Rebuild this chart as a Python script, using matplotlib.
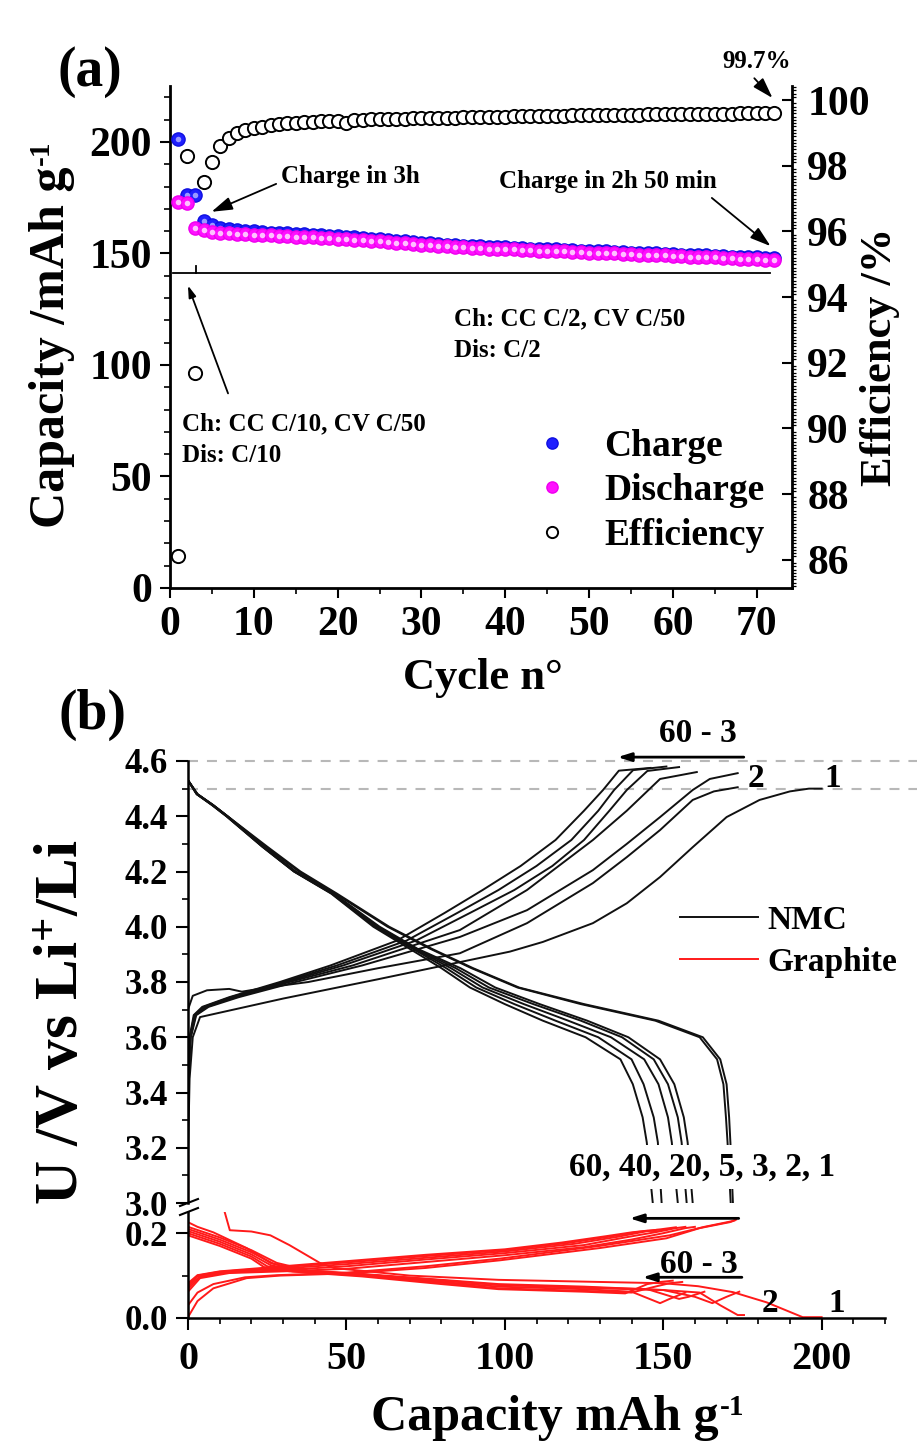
import matplotlib
matplotlib.use('Agg')
import matplotlib.pyplot as plt
from matplotlib.ticker import MultipleLocator
from matplotlib.lines import Line2D

plt.rcParams['font.family'] = ['Liberation Serif', 'DejaVu Serif']
plt.rcParams['font.weight'] = 'bold'
plt.rcParams['mathtext.default'] = 'regular'
plt.rcParams['axes.linewidth'] = 1.5

# ---------------- (a) cycling data ----------------
cycles = list(range(1, 73))
charge_cap = [201.5, 176.0, 176.3, 164.5, 162.6, 161.6, 161.0, 160.5, 160.2, 159.9,
              159.7, 159.4, 159.2, 159.0, 158.8, 158.6, 158.3, 158.1, 157.9, 157.7,
              157.5, 157.2, 156.9, 156.6, 156.3, 156.0, 155.7, 155.4, 155.2, 154.9,
              154.6, 154.3, 154.0, 153.7, 153.5, 153.3, 153.2, 153.0, 152.9, 152.7,
              152.5, 152.4, 152.2, 152.1, 151.9, 151.8, 151.6, 151.5, 151.3, 151.2,
              151.0, 150.9, 150.7, 150.6, 150.4, 150.3, 150.1, 150.0, 149.8, 149.7,
              149.5, 149.4, 149.2, 149.1, 148.9, 148.8, 148.6, 148.5, 148.3, 148.2,
              148.0, 147.9]
discharge_cap = [173.0, 172.5, 161.3, 160.5, 159.8, 159.4, 159.1, 158.9, 158.7, 158.5,
                 158.3, 158.1, 157.9, 157.7, 157.6, 157.4, 157.2, 157.0, 156.9, 156.7,
                 156.4, 156.2, 155.9, 155.6, 155.4, 155.1, 154.8, 154.5, 154.3, 154.0,
                 153.7, 153.5, 153.2, 152.9, 152.7, 152.5, 152.4, 152.2, 152.1, 151.9,
                 151.8, 151.6, 151.5, 151.3, 151.2, 151.0, 150.9, 150.7, 150.6, 150.4,
                 150.3, 150.1, 150.0, 149.8, 149.7, 149.5, 149.4, 149.2, 149.1, 148.9,
                 148.8, 148.6, 148.5, 148.3, 148.2, 148.0, 147.9, 147.7, 147.6, 147.4,
                 147.3, 147.1]
efficiency = [86.1, 98.3, 91.7, 97.5, 98.1, 98.6, 98.85, 99.0, 99.08, 99.14,
              99.19, 99.23, 99.26, 99.29, 99.31, 99.33, 99.34, 99.35, 99.36, 99.37,
              99.29, 99.39, 99.40, 99.41, 99.42, 99.43, 99.43, 99.44, 99.45, 99.45,
              99.46, 99.46, 99.47, 99.47, 99.48, 99.48, 99.49, 99.49, 99.50, 99.50,
              99.51, 99.51, 99.52, 99.52, 99.52, 99.53, 99.53, 99.54, 99.54, 99.54,
              99.55, 99.55, 99.55, 99.56, 99.56, 99.56, 99.57, 99.57, 99.57, 99.58,
              99.58, 99.58, 99.58, 99.59, 99.59, 99.59, 99.59, 99.60, 99.60, 99.60,
              99.60, 99.61]

# ---------------- (b) NMC charge curves ----------------
nmc_ch1_q = [0, 0.5, 1.5, 3.8, 30, 60, 85, 101.6, 112, 127.8, 138.5, 149, 159.3, 170, 180.4, 190, 196, 200]
nmc_ch1_v = [3.17, 3.45, 3.60, 3.673, 3.74, 3.81, 3.87, 3.91, 3.945, 4.013, 4.085, 4.18, 4.288, 4.397, 4.459, 4.49, 4.50, 4.50]
nmc_ch2_q = [0, 1.5, 6, 13, 17, 25, 38, 60, 85.8, 107, 127.8, 138.5, 149, 159.3, 166, 173.5]
nmc_ch2_v = [3.70, 3.75, 3.77, 3.775, 3.765, 3.78, 3.80, 3.85, 3.904, 4.013, 4.158, 4.252, 4.35, 4.459, 4.49, 4.505]
nmc_ch3_q = [0, 0.9, 2.6, 6.5, 16, 34, 55, 85.8, 107, 127.8, 138.5, 149, 159.3, 164.7, 173.5]
nmc_ch3_v = [3.45, 3.60, 3.68, 3.71, 3.745, 3.80, 3.86, 3.963, 4.06, 4.205, 4.30, 4.397, 4.495, 4.535, 4.556]
nmc_ch5_q = [0, 0.8, 2.4, 6, 15, 32, 52, 85.8, 107, 127.8, 138.5, 149, 160.6]
nmc_ch5_v = [3.42, 3.60, 3.68, 3.71, 3.745, 3.80, 3.86, 3.988, 4.133, 4.314, 4.42, 4.535, 4.56]
nmc_ch20_q = [0, 0.7, 2.2, 5.5, 14, 31, 49, 72, 89, 103, 115, 125, 133, 138.5, 145, 155]
nmc_ch20_v = [3.40, 3.60, 3.68, 3.71, 3.745, 3.80, 3.86, 3.95, 4.05, 4.133, 4.22, 4.314, 4.42, 4.495, 4.564, 4.578]
nmc_ch40_q = [0, 0.6, 2, 5, 13.5, 30, 47, 69, 85, 98, 110, 121, 129.5, 134.5, 140.5, 151]
nmc_ch40_v = [3.38, 3.60, 3.68, 3.71, 3.745, 3.80, 3.86, 3.95, 4.05, 4.133, 4.22, 4.314, 4.42, 4.495, 4.567, 4.58]
nmc_ch60_q = [0, 0.5, 1.8, 4.5, 13, 29, 45, 66, 81, 93, 105, 116, 125, 131, 136, 146]
nmc_ch60_v = [3.35, 3.60, 3.68, 3.71, 3.745, 3.80, 3.86, 3.95, 4.05, 4.133, 4.22, 4.314, 4.42, 4.495, 4.565, 4.575]

# ---------------- (b) NMC discharge curves (shared voltage grid) ----------------
nmc_dis_v = [4.53, 4.48, 4.44, 4.40, 4.29, 4.20, 4.12, 4.00, 3.92, 3.85, 3.78, 3.72, 3.66, 3.60, 3.52, 3.43, 3.31, 3.22, 3.00]
nmc_dis1_q = [0, 3, 8, 12.5, 24.5, 35, 46.5, 63, 76.5, 89.5, 104, 124, 147.5, 161.5, 167, 169, 169.8, 170.3, 171.3]
nmc_dis2_q = [0, 3, 8, 12.5, 25, 35.5, 47, 63.5, 77, 90, 104.5, 125, 148.5, 162.5, 168, 170, 170.8, 171.2, 172]
nmc_dis3_q = [0, 2.9, 7.9, 12.4, 24, 34, 46, 60.5, 72.5, 86, 97, 111, 126, 139, 149, 153.5, 156.5, 157.7, 159.3]
nmc_dis5_q = [0, 2.9, 7.9, 12.4, 23.8, 33.8, 45.8, 60, 72, 84.5, 95, 109, 124, 137, 147, 151.5, 154.6, 155.8, 157.4]
nmc_dis20_q = [0, 2.8, 7.8, 12.3, 23.6, 33.6, 45.6, 59.5, 71.5, 83, 93, 106, 120, 133.5, 144, 148.5, 151.5, 152.7, 154.6]
nmc_dis40_q = [0, 2.8, 7.7, 12.2, 23.5, 33.5, 45.4, 59, 71, 81.5, 91, 103, 116, 129.5, 140, 143.8, 147, 148.3, 149.5]
nmc_dis60_q = [0, 2.7, 7.6, 12.1, 23.4, 33.4, 45.2, 58.5, 70, 80, 89, 100, 112, 125.5, 136.5, 140.4, 143.5, 144.8, 146.7]

# ---------------- (b) graphite curves ----------------
gr_ocv_q = [0, 0]
gr_ocv_v = [3.17, 2.90]
# lithiation (falling)
gr_li1_q = [11.2, 13.2, 20, 26, 32, 41.6, 46, 70, 98, 130, 150, 161, 172, 182.6, 194, 200]
gr_li1_v = [0.26, 0.207, 0.204, 0.195, 0.172, 0.13, 0.118, 0.10, 0.09, 0.085, 0.082, 0.075, 0.061, 0.037, 0.002, 0.002]
gr_li2_q = [0, 3, 8, 18.5, 26, 35, 50, 75, 98, 130, 150, 161.5, 168, 173.5, 175.5]
gr_li2_v = [0.226, 0.215, 0.202, 0.165, 0.13, 0.112, 0.105, 0.092, 0.078, 0.07, 0.066, 0.06, 0.03, 0.007, 0.007]
gr_li3_q = [0, 4, 10, 20, 28, 38, 55, 80, 98, 125, 150, 160, 165.5, 170, 174]
gr_li3_v = [0.215, 0.205, 0.19, 0.16, 0.13, 0.112, 0.104, 0.09, 0.08, 0.074, 0.066, 0.05, 0.035, 0.05, 0.062]
gr_li5_q = [0, 4, 10, 20, 27, 36, 55, 80, 98, 125, 145, 155, 158, 163]
gr_li5_v = [0.21, 0.2, 0.185, 0.155, 0.128, 0.112, 0.103, 0.088, 0.078, 0.072, 0.068, 0.045, 0.05, 0.062]
gr_li20_q = [0, 4, 10, 20, 26, 34, 55, 80, 98, 125, 140, 149, 152, 157]
gr_li20_v = [0.205, 0.195, 0.18, 0.15, 0.125, 0.111, 0.102, 0.085, 0.074, 0.068, 0.062, 0.035, 0.045, 0.06]
gr_li40_q = [0, 4, 10, 20, 25, 33, 55, 80, 98, 125, 140, 148, 152, 156]
gr_li40_v = [0.2, 0.19, 0.175, 0.145, 0.122, 0.11, 0.1, 0.083, 0.07, 0.064, 0.06, 0.075, 0.082, 0.085]
gr_li60_q = [0, 4, 10, 20, 24, 32, 55, 80, 98, 125, 138, 145, 149, 153]
gr_li60_v = [0.195, 0.185, 0.17, 0.14, 0.12, 0.11, 0.098, 0.08, 0.068, 0.062, 0.058, 0.08, 0.085, 0.088]
# delithiation (rising)
gr_de1_q = [0, 3, 8, 18.5, 29, 50, 75, 98.4, 130, 151, 161.5, 171, 172.5]
gr_de1_v = [0.002, 0.04, 0.07, 0.094, 0.10, 0.105, 0.118, 0.136, 0.165, 0.188, 0.212, 0.226, 0.23]
gr_de2_q = [0, 3, 8, 18, 28, 50, 75, 98.4, 130, 152, 163, 171.5, 173]
gr_de2_v = [0.03, 0.06, 0.08, 0.096, 0.101, 0.107, 0.122, 0.14, 0.17, 0.195, 0.215, 0.228, 0.232]
gr_de3_q = [0, 3.8, 13, 30, 50, 75, 100, 125, 140, 150, 157, 160]
gr_de3_v = [0.062, 0.094, 0.106, 0.11, 0.116, 0.132, 0.148, 0.167, 0.185, 0.2, 0.212, 0.215]
gr_de5_q = [0, 3.5, 12, 30, 50, 75, 100, 125, 138, 148, 154, 157]
gr_de5_v = [0.068, 0.096, 0.107, 0.113, 0.122, 0.138, 0.153, 0.172, 0.19, 0.203, 0.212, 0.215]
gr_de20_q = [0, 3, 11, 30, 50, 75, 100, 122, 136, 145, 151, 154]
gr_de20_v = [0.072, 0.098, 0.108, 0.117, 0.127, 0.142, 0.157, 0.175, 0.192, 0.205, 0.211, 0.214]
gr_de40_q = [0, 3, 10, 30, 50, 75, 100, 120, 134, 142, 148, 151]
gr_de40_v = [0.077, 0.1, 0.109, 0.12, 0.131, 0.146, 0.16, 0.177, 0.193, 0.203, 0.208, 0.207]
gr_de60_q = [0, 3, 10, 30, 50, 75, 100, 118, 132, 140, 145, 147.5]
gr_de60_v = [0.082, 0.101, 0.11, 0.122, 0.134, 0.149, 0.162, 0.178, 0.193, 0.202, 0.206, 0.205]

W, H = 917, 1450


def rect(l, t, r, b):
    # pixel box -> figure fraction
    return [l / W, 1 - b / H, (r - l) / W, (b - t) / H]


def fx(px):
    return px / W


def fy(py):
    return 1 - py / H


fig = plt.figure(figsize=(W / 100, H / 100), dpi=100)

# ================= panel (a) =================
ax_a = fig.add_axes(rect(170, 86, 792, 588))
ax_e = ax_a.twinx()

ch_line, = ax_a.plot(cycles, charge_cap, 'o', ms=9.5, mfc='#1f1fff', mec='#1010e0', mew=1.0, zorder=3)
ax_a.plot(cycles, charge_cap, 'o', ms=4, mfc='#9a9aff', mec='none', zorder=3)
dis_line, = ax_a.plot(cycles, discharge_cap, 'o', ms=9.5, mfc='#ff10ff', mec='#ee00ee', mew=1.0, zorder=4)
ax_a.plot(cycles, discharge_cap, 'o', ms=4, mfc='#ffc0ff', mec='none', zorder=4)
eff_line, = ax_e.plot(cycles, efficiency, 'o', ms=9.5, mfc='white', mec='black', mew=1.4)

ax_a.set_xlim(0, 74.2)
ax_a.set_ylim(0, 225.1)
ax_e.set_ylim(85.14, 100.43)

ax_a.set_xticks(range(0, 80, 10))
ax_a.xaxis.set_minor_locator(MultipleLocator(5))
ax_a.set_yticks(range(0, 250, 50))
ax_a.yaxis.set_minor_locator(MultipleLocator(10))
ax_e.set_yticks(range(86, 101, 2))
ax_e.yaxis.set_minor_locator(MultipleLocator(0.1))

ax_a.tick_params(axis='both', which='major', direction='out', length=7, width=1.5, labelsize=30, pad=6)
ax_a.tick_params(axis='both', which='minor', direction='out', length=4, width=1.2)
ax_e.tick_params(axis='y', which='major', direction='in', length=7, width=1.5, labelsize=30, pad=11)
ax_e.tick_params(axis='y', which='minor', direction='out', length=3, width=0.9)

ax_a.spines['top'].set_visible(False)
ax_a.spines['right'].set_visible(False)
ax_e.spines['top'].set_visible(False)
ax_e.spines['left'].set_visible(False)
ax_e.spines['bottom'].set_visible(False)
for s in ('left', 'bottom'):
    ax_a.spines[s].set_linewidth(2)
ax_e.spines['right'].set_linewidth(2)

# bracket under the capacity points
ax_a.plot([0.4, 3.05], [141.4, 141.4], color='black', lw=1.3)
ax_a.plot([3.05, 3.05], [141.4, 144.5], color='black', lw=1.3)
ax_a.plot([3.05, 71.6], [141.4, 141.4], color='black', lw=1.3)

arrow_kw = dict(arrowstyle='-|>,head_length=0.7,head_width=0.22', color='black', lw=1.3)
ax_a.annotate('Charge in 3h', xy=(4.65, 168.2), xytext=(13.3, 184.3), fontsize=18,
              va='center', ha='left', arrowprops=dict(arrow_kw, relpos=(0, 0.3)))
ax_a.annotate('Charge in 2h 50 min', xy=(71.9, 152.5), xytext=(39.3, 182.1), fontsize=18,
              va='center', ha='left', arrowprops=dict(arrow_kw, relpos=(0.95, 0)))
ax_a.annotate('99.7%', xy=(72.1, 218.8), xytext=(65.9, 235.9), fontsize=18,
              va='center', ha='left', annotation_clip=False,
              arrowprops=dict(arrow_kw, relpos=(0.4, 0)))
ax_a.annotate('', xy=(2.03, 136.8), xytext=(7.04, 86.1), arrowprops=arrow_kw)
ax_a.text(33.9, 120.6, 'Ch: CC C/2, CV C/50', fontsize=18, va='center', ha='left')
ax_a.text(33.9, 106.3, 'Dis: C/2', fontsize=18, va='center', ha='left')
ax_a.text(1.43, 73.5, 'Ch: CC C/10, CV C/50', fontsize=18, va='center', ha='left')
ax_a.text(1.43, 59.2, 'Dis: C/10', fontsize=18, va='center', ha='left')

fig.legend([ch_line, dis_line, eff_line], ['Charge', 'Discharge', 'Efficiency'],
           loc='center left', bbox_to_anchor=(fx(533), fy(491)), bbox_transform=fig.transFigure,
           frameon=False, fontsize=27, handlelength=1.0, handletextpad=0.9,
           labelspacing=0.26, borderpad=0, borderaxespad=0, numpoints=1, markerscale=0.85)

cap_a_label = fig.text(fx(52), fy(347), 'Capacity /mAh g', rotation=90, ha='center', va='center', fontsize=36)
fig.text(fx(880), fy(357), 'Efficiency /%', rotation=90, ha='center', va='center', fontsize=32)
fig.text(fx(483), fy(678), 'Cycle n°', ha='center', va='center', fontsize=32)
fig.text(fx(57), fy(72), '(a)', ha='left', va='center', fontsize=40)

# ================= panel (b) =================
ax_up = fig.add_axes(rect(188, 761, 885, 1203))
ax_lo = fig.add_axes(rect(188, 1212, 885, 1318))

nmc_charge = [(nmc_ch1_q, nmc_ch1_v), (nmc_ch2_q, nmc_ch2_v), (nmc_ch3_q, nmc_ch3_v),
              (nmc_ch5_q, nmc_ch5_v), (nmc_ch20_q, nmc_ch20_v), (nmc_ch40_q, nmc_ch40_v),
              (nmc_ch60_q, nmc_ch60_v)]
nmc_discharge = [nmc_dis1_q, nmc_dis2_q, nmc_dis3_q, nmc_dis5_q, nmc_dis20_q, nmc_dis40_q, nmc_dis60_q]
gr_lith = [(gr_li1_q, gr_li1_v), (gr_li2_q, gr_li2_v), (gr_li3_q, gr_li3_v), (gr_li5_q, gr_li5_v),
           (gr_li20_q, gr_li20_v), (gr_li40_q, gr_li40_v), (gr_li60_q, gr_li60_v)]
gr_delith = [(gr_de1_q, gr_de1_v), (gr_de2_q, gr_de2_v), (gr_de3_q, gr_de3_v), (gr_de5_q, gr_de5_v),
             (gr_de20_q, gr_de20_v), (gr_de40_q, gr_de40_v), (gr_de60_q, gr_de60_v)]

nmc_color = '#111111'
gr_color = '#ff1a1a'
for q, v in nmc_charge:
    nmc_handle, = ax_up.plot(q, v, color=nmc_color, lw=1.4, solid_joinstyle='round')
for q in nmc_discharge:
    ax_up.plot(q, nmc_dis_v, color=nmc_color, lw=1.4, solid_joinstyle='round')
ax_up.plot(gr_ocv_q, gr_ocv_v, color=gr_color, lw=1.6)
for q, v in gr_lith + gr_delith:
    gr_handle, = ax_lo.plot(q, v, color=gr_color, lw=1.4, solid_joinstyle='round')

ax_up.set_xlim(0, 220)
ax_up.set_ylim(3.0, 4.6)
ax_lo.set_xlim(0, 220)
ax_lo.set_ylim(0, 0.25)

# cut-off voltage guides
for vcut in (4.6, 4.5):
    ax_up.plot([0, 230], [vcut, vcut], color='#b8b8b8', lw=1.5, ls=(0, (4.8, 4.3)),
               clip_on=False, zorder=0)

ax_up.set_yticks([3.0, 3.2, 3.4, 3.6, 3.8, 4.0, 4.2, 4.4, 4.6])
ax_up.set_yticklabels(['3.0', '3.2', '3.4', '3.6', '3.8', '4.0', '4.2', '4.4', '4.6'])
ax_up.yaxis.set_minor_locator(MultipleLocator(0.1))
ax_up.set_xticks([])
ax_lo.set_yticks([0.0, 0.2])
ax_lo.set_yticklabels(['0.0', '0.2'])
ax_lo.yaxis.set_minor_locator(MultipleLocator(0.1))
ax_lo.set_xticks(range(0, 250, 50))
ax_lo.xaxis.set_minor_locator(MultipleLocator(10))

for ax in (ax_up, ax_lo):
    ax.spines['top'].set_visible(False)
    ax.spines['right'].set_visible(False)
    ax.spines['left'].set_linewidth(1.8)
    ax.spines['bottom'].set_linewidth(1.8)
    ax.tick_params(which='major', direction='out', length=8.5, width=1.5, labelsize=25, pad=6)
    ax.tick_params(which='minor', direction='out', length=4.5, width=1.2)
ax_up.spines['bottom'].set_visible(False)
ax_lo.tick_params(axis='x', which='major', labelsize=29, pad=8)

# axis break marks
for y0 in (1203, 1212):
    fig.add_artist(Line2D([fx(180), fx(198)], [fy(y0 + 3), fy(y0 - 4)], color='black', lw=1.5,
                          transform=fig.transFigure))

# annotations, upper (NMC)
ax_up.annotate('', xy=(134.7, 4.614), xytext=(176.3, 4.614), annotation_clip=False,
               arrowprops=dict(arrowstyle='-|>,head_length=0.8,head_width=0.25', color='black', lw=2))
ax_up.text(160.9, 4.698, '60 - 3', fontsize=24, ha='center', va='center', clip_on=False)
ax_up.text(179.2, 4.538, '2', fontsize=24, ha='center', va='center')
ax_up.text(203.5, 4.535, '1', fontsize=24, ha='center', va='center')
ax_up.text(120.2, 3.130, '60, 40, 20, 5, 3, 2, 1', fontsize=24, ha='left', va='center',
           bbox=dict(boxstyle='square,pad=0.2', fc='white', ec='none'), zorder=5)

# annotations, lower (graphite)
ax_lo.annotate('', xy=(138.5, 0.235), xytext=(174.7, 0.235), annotation_clip=False,
               arrowprops=dict(arrowstyle='-|>,head_length=0.8,head_width=0.25', color='black', lw=2))
ax_lo.annotate('', xy=(142.6, 0.096), xytext=(175.7, 0.096), annotation_clip=False,
               arrowprops=dict(arrowstyle='-|>,head_length=0.8,head_width=0.25', color='black', lw=2))
ax_lo.text(161.2, 0.127, '60 - 3', fontsize=24, ha='center', va='center')
ax_lo.text(183.6, 0.035, '2', fontsize=24, ha='center', va='center')
ax_lo.text(204.7, 0.035, '1', fontsize=24, ha='center', va='center')

fig.legend([nmc_handle, gr_handle], ['NMC', 'Graphite'], loc='center left',
           bbox_to_anchor=(fx(680), fy(941.5)), bbox_transform=fig.transFigure,
           frameon=False, fontsize=24, handlelength=2.35, handletextpad=0.27,
           labelspacing=0.33, borderpad=0, borderaxespad=0)

fig.text(fx(63), fy(1022), 'U /V vs Li$^{+}$/Li', rotation=90, ha='center', va='center', fontsize=44)
cap_b_label = fig.text(fx(545), fy(1418), 'Capacity mAh g', ha='center', va='center', fontsize=36)
fig.text(fx(58), fy(715), '(b)', ha='left', va='center', fontsize=40)

# small "-1" superscripts placed against the measured label extents
renderer = fig.canvas.get_renderer()
bb = cap_a_label.get_window_extent(renderer)
fig.text(fx(bb.x0 - 1), (bb.y1 + 1) / H, '-1', rotation=90, ha='left', va='bottom', fontsize=21)
bb = cap_b_label.get_window_extent(renderer)
fig.text(fx(bb.x1 + 1), (bb.y1 + 1) / H, '-1', ha='left', va='top', fontsize=21)

fig.savefig('out.png', dpi=100)
